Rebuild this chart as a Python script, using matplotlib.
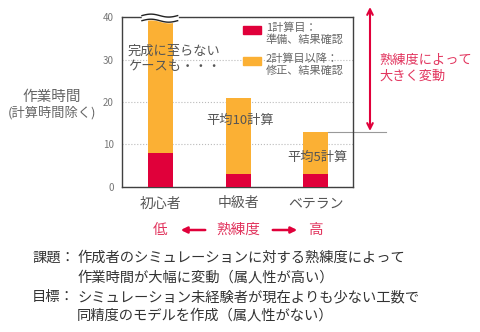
import numpy as np
import matplotlib
matplotlib.use("Agg")
import matplotlib.pyplot as plt
from matplotlib.patches import Rectangle, FancyArrowPatch

plt.rcParams['font.family'] = ['Noto Sans CJK JP', 'DejaVu Sans']

# data
levels = ["初心者", "中級者", "ベテラン"]
first_calc = [8, 3, 3]          # 1計算目
later_calc = [32, 18, 10]       # 2計算目以降
yticks = [0, 10, 20, 30, 40]
legend_labels = ["1計算目：\n準備、結果確認", "2計算目以降：\n修正、結果確認"]

RED = "#E0003A"
ORANGE = "#FBB034"
GRAY = "#666666"
DARK = "#555555"
PINK = "#E2365F"

W, H = 480, 332
fig = plt.figure(figsize=(W / 100, H / 100), dpi=100)
ax = fig.add_axes([122 / W, 1 - 186.7 / H, (353 - 122) / W, (186.7 - 17.3) / H])

def fx(px):
    return px / W

def fy(py):
    return 1 - py / H

x = np.arange(len(levels))
totals = [a + b for a, b in zip(first_calc, later_calc)]
bw = 0.32
ax.bar(x, first_calc, width=bw, color=RED, zorder=3)
ax.bar(x, later_calc, width=bw, bottom=first_calc, color=ORANGE, zorder=3)

ax.set_xlim(-0.497, 2.48)
ax.set_ylim(0, 40)
ax.set_yticks(yticks)
ax.yaxis.grid(True, linestyle=':', color='#bbbbbb', linewidth=0.8)
ax.set_axisbelow(True)
ax.tick_params(axis='y', length=0, labelsize=7, labelcolor='#777777', pad=6)
ax.set_xticks(x)
ax.set_xticklabels(levels, fontsize=10, color=DARK)
ax.tick_params(axis='x', length=0, pad=7)
for s in ax.spines.values():
    s.set_color('#404040')
    s.set_linewidth(1)

# wavy break mark on top of the first bar
wx = np.linspace(-bw / 2 - 0.08, bw / 2 + 0.06, 80)
wave = 0.35 * np.sin((wx - wx[0]) / (wx[-1] - wx[0]) * 2 * np.pi)
up = 40.4 + wave
lo = 39.2 + wave
ax.fill_between(wx, lo, up, color='white', zorder=4, clip_on=False)
ax.plot(wx, up, color='#222222', lw=1, zorder=5, clip_on=False)
ax.plot(wx, lo, color='#222222', lw=1, zorder=5, clip_on=False)

# legend (handle aligned with first text line)
for col, lab, py in [(RED, legend_labels[0], 26), (ORANGE, legend_labels[1], 57)]:
    fig.add_artist(Rectangle((fx(243), fy(py + 7.5)), 18 / W, 7.5 / H,
                             transform=fig.transFigure, color=col, zorder=6))
    fig.text(fx(266), fy(py - 4), lab, fontsize=8, color=GRAY, va='top', ha='left',
             linespacing=1.2)

# in-chart notes
fig.text(fx(128), fy(59), "完成に至らない\nケースも・・・", fontsize=9.5, color=DARK,
         va='center', ha='left', linespacing=1.25, zorder=6)
fig.text(fx(206), fy(120), "平均10計算", fontsize=9.5, color=DARK, va='center', ha='left')
fig.text(fx(287), fy(157), "平均5計算", fontsize=9.5, color=DARK, va='center', ha='left')

# gray line from veteran bar top and red double arrow
ax.plot([x[2] + bw / 2, 2.91], [totals[2], totals[2]], color='#999999', lw=0.8, clip_on=False)
ax.annotate("", xy=(fx(370), fy(7)), xytext=(fx(370), fy(131)), xycoords='figure fraction',
            textcoords='figure fraction',
            arrowprops=dict(arrowstyle='<->', color=RED, lw=1.5, mutation_scale=10,
                            shrinkA=0, shrinkB=0))
fig.text(fx(379), fy(68), "熟練度によって\n大きく変動", fontsize=9.5, color=PINK,
         va='center', ha='left', linespacing=1.25)

# y label
fig.text(fx(52), fy(97), "作業時間", fontsize=10.5, color=GRAY, ha='center', va='center')
fig.text(fx(52), fy(113), "(計算時間除く)", fontsize=9.5, color=GRAY, ha='center', va='center')

# skill axis below
yy = fy(230)
for xi, s in zip(x, ["低", "熟練度", "高"]):
    ax.annotate(s, xy=(xi, yy), xycoords=('data', 'figure fraction'), fontsize=10.5,
                color=PINK, ha='center', va='center', annotation_clip=False)
for a, b in [(208, 178), (270, 300)]:
    fig.add_artist(FancyArrowPatch(
        (fx(a), yy), (fx(b), yy), transform=fig.transFigure, arrowstyle='-|>',
        color=RED, lw=1.8, mutation_scale=9))

# bottom text
lines = [
    ("課題：", "作成者のシミュレーションに対する熟練度によって", 258),
    ("", "作業時間が大幅に変動（属人性が高い）", 277),
    ("目標：", "シミュレーション未経験者が現在よりも少ない工数で", 297),
    ("", "同精度のモデルを作成（属人性がない）", 315),
]
for head, body, py in lines:
    if head:
        fig.text(fx(32), fy(py), head, fontsize=10.3, color='#333333', va='center', ha='left')
    fig.text(fx(77), fy(py), body, fontsize=10.3, color='#333333', va='center', ha='left')

fig.savefig("out.png", dpi=100)
